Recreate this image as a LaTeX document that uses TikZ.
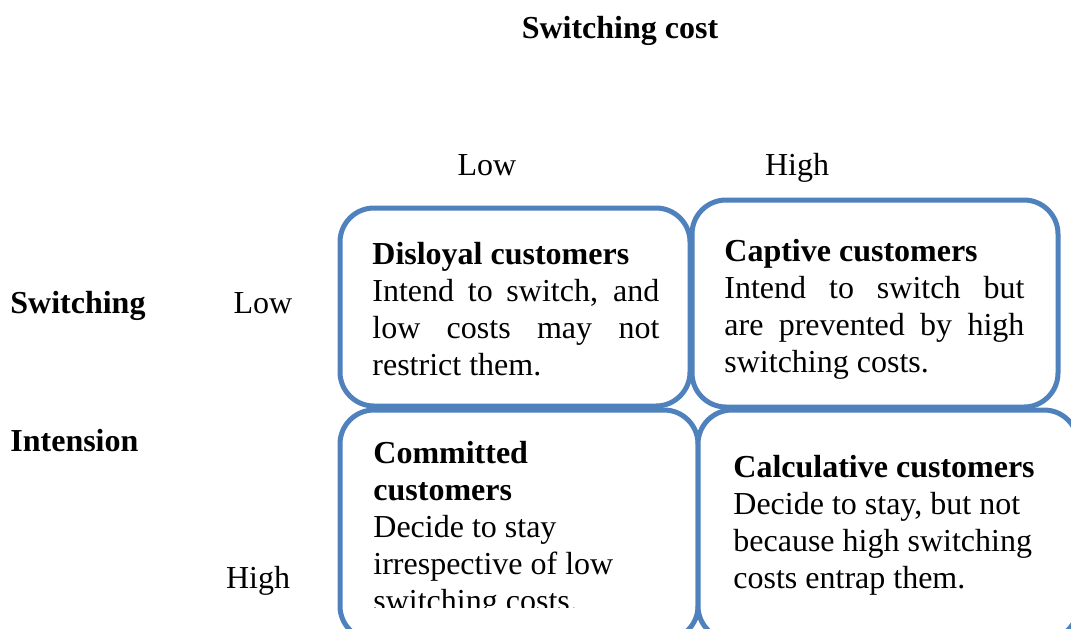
\documentclass[tikz,border=0pt]{standalone}
\usepackage{fontspec}
\setmainfont{Liberation Serif}
\usepackage{tikz}
\usetikzlibrary{positioning}
\definecolor{cellblue}{RGB}{79,129,189}
\newcommand{\rs}{\spaceskip=0pt\xspaceskip=0pt\relax}
\newcommand{\jl}[2]{\makebox[#1][s]{\rs#2}}

\begin{document}
\begin{tikzpicture}[x=0.5pt,y=-0.5pt,
 font=\fontsize{16}{18.5}\selectfont,
 cell/.style={draw=cellblue,line width=2.5pt,rounded corners=17pt,fill=white,
  anchor=north west,inner sep=0pt,outer sep=0pt},
 txt/.style={anchor=base west,inner sep=0pt,align=left,text width=#1},
 txt/.default=165pt,
 lab/.style={anchor=base,inner sep=0pt}]
\useasboundingbox (0,0) rectangle (1071,628);
\clip (0,0) rectangle (1071,628);
% headings
\node[lab,font=\fontsize{16}{18.5}\selectfont\bfseries] (cost) at (620,38) {Switching cost};
\node[lab] (clow) at (487,175) {Low};
\node[lab] (chigh) at (797,175) {High};
\node[lab,anchor=base west,font=\fontsize{16}{18.5}\selectfont\bfseries] (swi) at (10,313) {Switching};
\node[lab,anchor=base west,font=\fontsize{16}{18.5}\selectfont\bfseries] (int) at (10,451) {Intension};
\node[lab] (rlow) at (263,313) {Low};
\node[lab] (rhigh) at (258,588) {High};
% the four cells
\node[cell,minimum width=175pt,minimum height=99pt] (dis) at (340,208) {};
\node[cell,minimum width=183pt,minimum height=103.5pt] (cap) at (692,200) {};
\node[cell,minimum width=179pt,minimum height=115pt] (com) at (340,410) {};
\node[cell,minimum width=190pt,minimum height=115pt] (cal) at (698,410) {};
\node[txt] (distxt) at (372,264) {\rs\textbf{Disloyal customers}\\
 \jl{143.5pt}{Intend to switch, and}\\
 \jl{143.5pt}{low costs may not}\\
 restrict them.};
\node[txt] (captxt) at (724,261) {\rs\textbf{Captive customers}\\
 \jl{150pt}{Intend to switch but}\\
 \jl{150pt}{are prevented by high}\\
 switching costs.};
\begin{scope}
\clip (345,415) rectangle (690,607);
\node[txt] (comtxt) at (373,463) {\rs\textbf{Committed}\\
 \textbf{customers}\\
 Decide to stay\\
 irrespective of low\\
 switching costs.};
\end{scope}
\node[txt] (caltxt) at (733,477) {\rs\textbf{Calculative customers}\\
 Decide to stay, but not\\
 because high switching\\
 costs entrap them.};
\end{tikzpicture}
\end{document}
